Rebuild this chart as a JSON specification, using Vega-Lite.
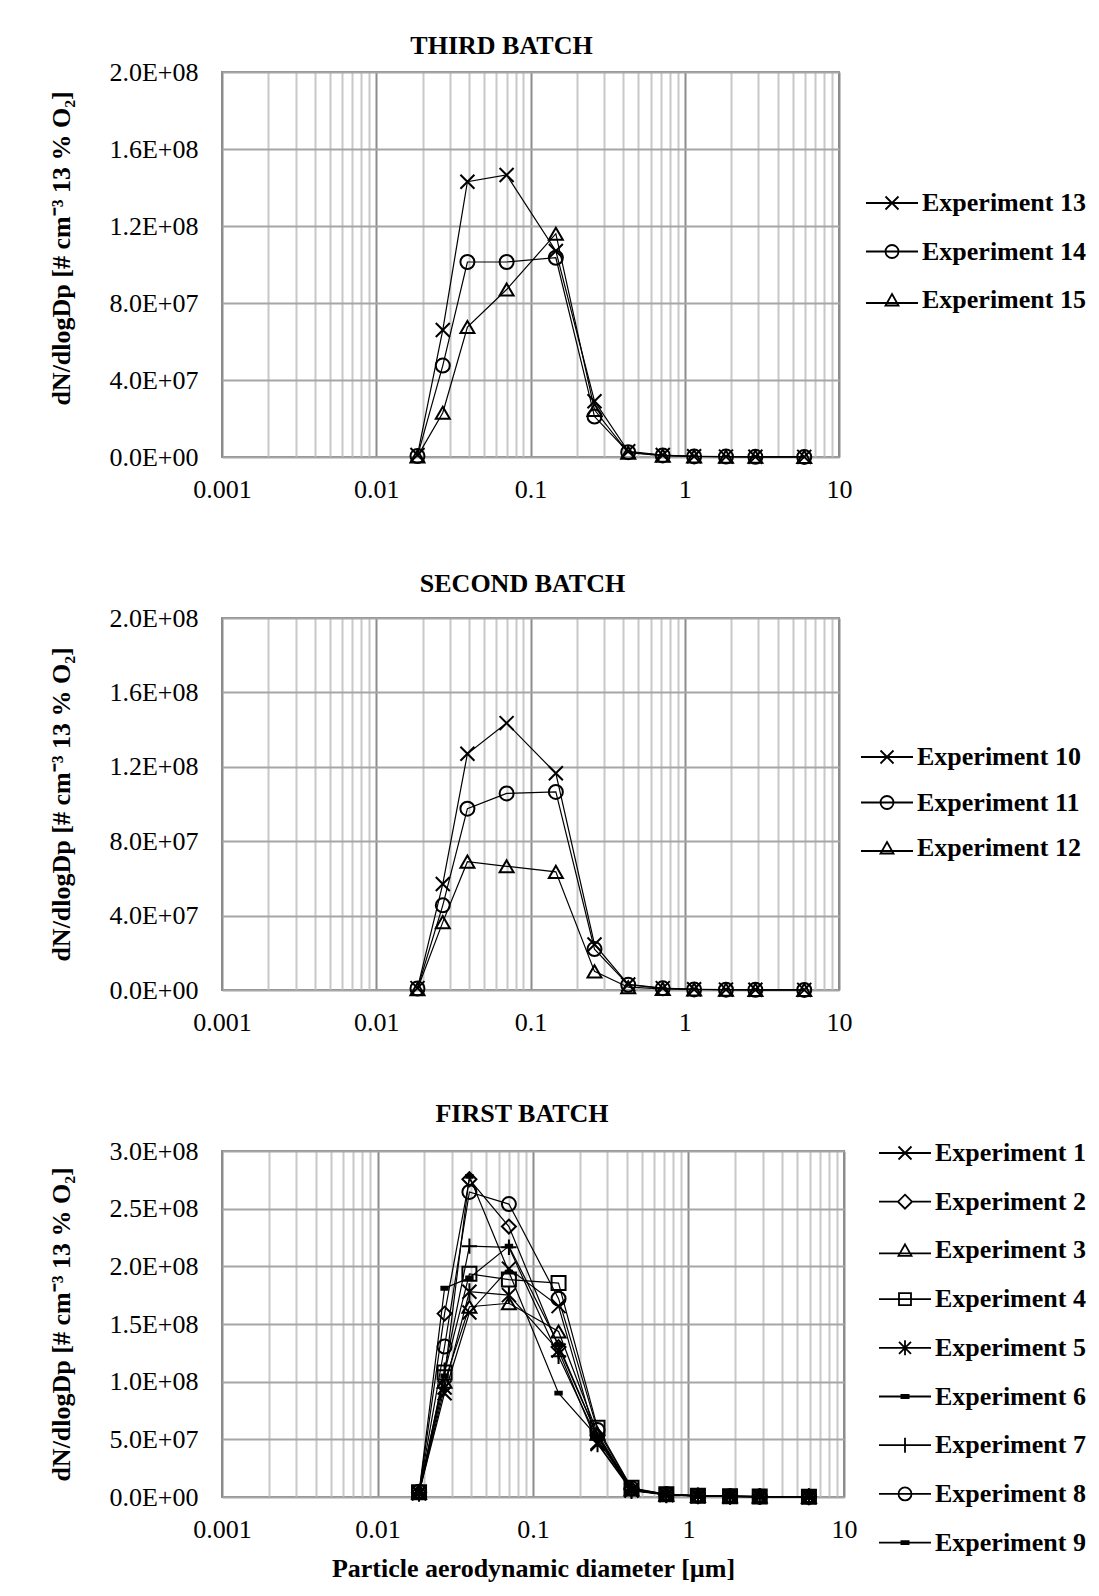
{
  "$schema": "https://vega.github.io/schema/vega-lite/v6.json",
  "background": "white",
  "padding": {"left": 47, "top": 32, "right": 0, "bottom": 0},
  "spacing": 161,
  "bounds": "flush",
  "datasets": {
    "psd": [
      {"p":1,"e":"Experiment 13","d":0.0185,"n":1000000},{"p":1,"e":"Experiment 13","d":0.027,"n":66000000},{"p":1,"e":"Experiment 13","d":0.039,"n":143000000},{"p":1,"e":"Experiment 13","d":0.07,"n":146500000},{"p":1,"e":"Experiment 13","d":0.146,"n":107000000},{"p":1,"e":"Experiment 13","d":0.26,"n":29000000},{"p":1,"e":"Experiment 13","d":0.43,"n":3000000},{"p":1,"e":"Experiment 13","d":0.72,"n":1000000},{"p":1,"e":"Experiment 13","d":1.15,"n":400000},{"p":1,"e":"Experiment 13","d":1.85,"n":200000},{"p":1,"e":"Experiment 13","d":2.87,"n":100000},{"p":1,"e":"Experiment 13","d":5.95,"n":50000},
      {"p":1,"e":"Experiment 14","d":0.0185,"n":500000},{"p":1,"e":"Experiment 14","d":0.027,"n":47500000},{"p":1,"e":"Experiment 14","d":0.039,"n":101300000},{"p":1,"e":"Experiment 14","d":0.07,"n":101300000},{"p":1,"e":"Experiment 14","d":0.146,"n":103500000},{"p":1,"e":"Experiment 14","d":0.26,"n":21000000},{"p":1,"e":"Experiment 14","d":0.43,"n":2500000},{"p":1,"e":"Experiment 14","d":0.72,"n":800000},{"p":1,"e":"Experiment 14","d":1.15,"n":300000},{"p":1,"e":"Experiment 14","d":1.85,"n":200000},{"p":1,"e":"Experiment 14","d":2.87,"n":100000},{"p":1,"e":"Experiment 14","d":5.95,"n":50000},
      {"p":1,"e":"Experiment 15","d":0.0185,"n":300000},{"p":1,"e":"Experiment 15","d":0.027,"n":23000000},{"p":1,"e":"Experiment 15","d":0.039,"n":67500000},{"p":1,"e":"Experiment 15","d":0.07,"n":87000000},{"p":1,"e":"Experiment 15","d":0.146,"n":116000000},{"p":1,"e":"Experiment 15","d":0.26,"n":24500000},{"p":1,"e":"Experiment 15","d":0.43,"n":2200000},{"p":1,"e":"Experiment 15","d":0.72,"n":700000},{"p":1,"e":"Experiment 15","d":1.15,"n":300000},{"p":1,"e":"Experiment 15","d":1.85,"n":200000},{"p":1,"e":"Experiment 15","d":2.87,"n":100000},{"p":1,"e":"Experiment 15","d":5.95,"n":50000},
      {"p":2,"e":"Experiment 10","d":0.0185,"n":1000000},{"p":2,"e":"Experiment 10","d":0.027,"n":57000000},{"p":2,"e":"Experiment 10","d":0.039,"n":127000000},{"p":2,"e":"Experiment 10","d":0.07,"n":143500000},{"p":2,"e":"Experiment 10","d":0.146,"n":116500000},{"p":2,"e":"Experiment 10","d":0.26,"n":24500000},{"p":2,"e":"Experiment 10","d":0.43,"n":3000000},{"p":2,"e":"Experiment 10","d":0.72,"n":1000000},{"p":2,"e":"Experiment 10","d":1.15,"n":400000},{"p":2,"e":"Experiment 10","d":1.85,"n":200000},{"p":2,"e":"Experiment 10","d":2.87,"n":100000},{"p":2,"e":"Experiment 10","d":5.95,"n":50000},
      {"p":2,"e":"Experiment 11","d":0.0185,"n":800000},{"p":2,"e":"Experiment 11","d":0.027,"n":45500000},{"p":2,"e":"Experiment 11","d":0.039,"n":97500000},{"p":2,"e":"Experiment 11","d":0.07,"n":105700000},{"p":2,"e":"Experiment 11","d":0.146,"n":106500000},{"p":2,"e":"Experiment 11","d":0.26,"n":22000000},{"p":2,"e":"Experiment 11","d":0.43,"n":2800000},{"p":2,"e":"Experiment 11","d":0.72,"n":900000},{"p":2,"e":"Experiment 11","d":1.15,"n":300000},{"p":2,"e":"Experiment 11","d":1.85,"n":200000},{"p":2,"e":"Experiment 11","d":2.87,"n":100000},{"p":2,"e":"Experiment 11","d":5.95,"n":50000},
      {"p":2,"e":"Experiment 12","d":0.0185,"n":500000},{"p":2,"e":"Experiment 12","d":0.027,"n":36500000},{"p":2,"e":"Experiment 12","d":0.039,"n":69000000},{"p":2,"e":"Experiment 12","d":0.07,"n":66500000},{"p":2,"e":"Experiment 12","d":0.146,"n":63500000},{"p":2,"e":"Experiment 12","d":0.26,"n":10000000},{"p":2,"e":"Experiment 12","d":0.43,"n":1500000},{"p":2,"e":"Experiment 12","d":0.72,"n":600000},{"p":2,"e":"Experiment 12","d":1.15,"n":300000},{"p":2,"e":"Experiment 12","d":1.85,"n":200000},{"p":2,"e":"Experiment 12","d":2.87,"n":100000},{"p":2,"e":"Experiment 12","d":5.95,"n":50000},
      {"p":3,"e":"Experiment 1","d":0.0185,"n":3500000},{"p":3,"e":"Experiment 1","d":0.027,"n":90000000},{"p":3,"e":"Experiment 1","d":0.039,"n":160000000},{"p":3,"e":"Experiment 1","d":0.07,"n":198000000},{"p":3,"e":"Experiment 1","d":0.146,"n":165500000},{"p":3,"e":"Experiment 1","d":0.26,"n":47000000},{"p":3,"e":"Experiment 1","d":0.43,"n":6000000},{"p":3,"e":"Experiment 1","d":0.72,"n":2000000},{"p":3,"e":"Experiment 1","d":1.15,"n":1000000},{"p":3,"e":"Experiment 1","d":1.85,"n":600000},{"p":3,"e":"Experiment 1","d":2.87,"n":400000},{"p":3,"e":"Experiment 1","d":5.95,"n":200000},
      {"p":3,"e":"Experiment 2","d":0.0185,"n":4000000},{"p":3,"e":"Experiment 2","d":0.027,"n":159000000},{"p":3,"e":"Experiment 2","d":0.039,"n":275500000},{"p":3,"e":"Experiment 2","d":0.07,"n":234500000},{"p":3,"e":"Experiment 2","d":0.146,"n":130000000},{"p":3,"e":"Experiment 2","d":0.26,"n":53000000},{"p":3,"e":"Experiment 2","d":0.43,"n":7000000},{"p":3,"e":"Experiment 2","d":0.72,"n":2200000},{"p":3,"e":"Experiment 2","d":1.15,"n":1000000},{"p":3,"e":"Experiment 2","d":1.85,"n":600000},{"p":3,"e":"Experiment 2","d":2.87,"n":400000},{"p":3,"e":"Experiment 2","d":5.95,"n":200000},
      {"p":3,"e":"Experiment 3","d":0.0185,"n":3800000},{"p":3,"e":"Experiment 3","d":0.027,"n":100000000},{"p":3,"e":"Experiment 3","d":0.039,"n":165000000},{"p":3,"e":"Experiment 3","d":0.07,"n":168000000},{"p":3,"e":"Experiment 3","d":0.146,"n":143500000},{"p":3,"e":"Experiment 3","d":0.26,"n":55000000},{"p":3,"e":"Experiment 3","d":0.43,"n":6500000},{"p":3,"e":"Experiment 3","d":0.72,"n":2000000},{"p":3,"e":"Experiment 3","d":1.15,"n":1000000},{"p":3,"e":"Experiment 3","d":1.85,"n":600000},{"p":3,"e":"Experiment 3","d":2.87,"n":400000},{"p":3,"e":"Experiment 3","d":5.95,"n":200000},
      {"p":3,"e":"Experiment 4","d":0.0185,"n":4200000},{"p":3,"e":"Experiment 4","d":0.027,"n":108000000},{"p":3,"e":"Experiment 4","d":0.039,"n":193500000},{"p":3,"e":"Experiment 4","d":0.07,"n":188500000},{"p":3,"e":"Experiment 4","d":0.146,"n":185500000},{"p":3,"e":"Experiment 4","d":0.26,"n":60000000},{"p":3,"e":"Experiment 4","d":0.43,"n":8000000},{"p":3,"e":"Experiment 4","d":0.72,"n":2400000},{"p":3,"e":"Experiment 4","d":1.15,"n":1100000},{"p":3,"e":"Experiment 4","d":1.85,"n":600000},{"p":3,"e":"Experiment 4","d":2.87,"n":400000},{"p":3,"e":"Experiment 4","d":5.95,"n":200000},
      {"p":3,"e":"Experiment 5","d":0.0185,"n":3200000},{"p":3,"e":"Experiment 5","d":0.027,"n":95000000},{"p":3,"e":"Experiment 5","d":0.039,"n":178000000},{"p":3,"e":"Experiment 5","d":0.07,"n":175000000},{"p":3,"e":"Experiment 5","d":0.146,"n":127000000},{"p":3,"e":"Experiment 5","d":0.26,"n":46000000},{"p":3,"e":"Experiment 5","d":0.43,"n":5500000},{"p":3,"e":"Experiment 5","d":0.72,"n":1800000},{"p":3,"e":"Experiment 5","d":1.15,"n":900000},{"p":3,"e":"Experiment 5","d":1.85,"n":500000},{"p":3,"e":"Experiment 5","d":2.87,"n":300000},{"p":3,"e":"Experiment 5","d":5.95,"n":200000},
      {"p":3,"e":"Experiment 6","d":0.0185,"n":3600000},{"p":3,"e":"Experiment 6","d":0.027,"n":105000000},{"p":3,"e":"Experiment 6","d":0.039,"n":278000000},{"p":3,"e":"Experiment 6","d":0.07,"n":195000000},{"p":3,"e":"Experiment 6","d":0.146,"n":90000000},{"p":3,"e":"Experiment 6","d":0.26,"n":52000000},{"p":3,"e":"Experiment 6","d":0.43,"n":6000000},{"p":3,"e":"Experiment 6","d":0.72,"n":2000000},{"p":3,"e":"Experiment 6","d":1.15,"n":1000000},{"p":3,"e":"Experiment 6","d":1.85,"n":600000},{"p":3,"e":"Experiment 6","d":2.87,"n":400000},{"p":3,"e":"Experiment 6","d":5.95,"n":200000},
      {"p":3,"e":"Experiment 7","d":0.0185,"n":3400000},{"p":3,"e":"Experiment 7","d":0.027,"n":110000000},{"p":3,"e":"Experiment 7","d":0.039,"n":217500000},{"p":3,"e":"Experiment 7","d":0.07,"n":216500000},{"p":3,"e":"Experiment 7","d":0.146,"n":122000000},{"p":3,"e":"Experiment 7","d":0.26,"n":50000000},{"p":3,"e":"Experiment 7","d":0.43,"n":6200000},{"p":3,"e":"Experiment 7","d":0.72,"n":2000000},{"p":3,"e":"Experiment 7","d":1.15,"n":1000000},{"p":3,"e":"Experiment 7","d":1.85,"n":600000},{"p":3,"e":"Experiment 7","d":2.87,"n":400000},{"p":3,"e":"Experiment 7","d":5.95,"n":200000},
      {"p":3,"e":"Experiment 8","d":0.0185,"n":4500000},{"p":3,"e":"Experiment 8","d":0.027,"n":130500000},{"p":3,"e":"Experiment 8","d":0.039,"n":264500000},{"p":3,"e":"Experiment 8","d":0.07,"n":254000000},{"p":3,"e":"Experiment 8","d":0.146,"n":172000000},{"p":3,"e":"Experiment 8","d":0.26,"n":58000000},{"p":3,"e":"Experiment 8","d":0.43,"n":7500000},{"p":3,"e":"Experiment 8","d":0.72,"n":2300000},{"p":3,"e":"Experiment 8","d":1.15,"n":1100000},{"p":3,"e":"Experiment 8","d":1.85,"n":600000},{"p":3,"e":"Experiment 8","d":2.87,"n":400000},{"p":3,"e":"Experiment 8","d":5.95,"n":200000},
      {"p":3,"e":"Experiment 9","d":0.0185,"n":4000000},{"p":3,"e":"Experiment 9","d":0.027,"n":181000000},{"p":3,"e":"Experiment 9","d":0.039,"n":190000000},{"p":3,"e":"Experiment 9","d":0.07,"n":217500000},{"p":3,"e":"Experiment 9","d":0.146,"n":132000000},{"p":3,"e":"Experiment 9","d":0.26,"n":53000000},{"p":3,"e":"Experiment 9","d":0.43,"n":6800000},{"p":3,"e":"Experiment 9","d":0.72,"n":2100000},{"p":3,"e":"Experiment 9","d":1.15,"n":1000000},{"p":3,"e":"Experiment 9","d":1.85,"n":600000},{"p":3,"e":"Experiment 9","d":2.87,"n":400000},{"p":3,"e":"Experiment 9","d":5.95,"n":200000}
    ]
  },
  "vconcat": [
    {
      "width": 617, "height": 385,
      "title": {"text": "THIRD BATCH", "dx": -29, "offset": 0},
      "data": {"name": "psd"},
      "transform": [{"filter": "datum.p == 1"}],
      "encoding": {
        "x": {"field": "d", "type": "quantitative", "scale": {"type": "log", "domain": [0.001, 10], "nice": false},
          "axis": {"title": null, "values": [0.001,0.002,0.003,0.004,0.005,0.006,0.007,0.008,0.009,0.01,0.02,0.03,0.04,0.05,0.06,0.07,0.08,0.09,0.1,0.2,0.3,0.4,0.5,0.6,0.7,0.8,0.9,1,2,3,4,5,6,7,8,9,10],
            "format": "~g", "labelExpr": "abs(log(datum.value)/LN10 - round(log(datum.value)/LN10)) < 0.000001 ? datum.label : ''",
            "gridColor": {"condition": {"test": "abs(log(datum.value)/LN10 - round(log(datum.value)/LN10)) < 0.000001", "value": "#8c8c8c"}, "value": "#c8c8c8"},
            "labelPadding": 19}},
        "y": {"field": "n", "type": "quantitative", "scale": {"domain": [0, 200000000], "nice": false},
          "axis": {"values": [0, 40000000, 80000000, 120000000, 160000000, 200000000], "labelExpr": "replace(upper(format(datum.value, '.1e')), 'E+', 'E+0')", "title": "dN/dlogDp [# cm⁻³ 13 % O₂]", "titleY": 176}}
      },
      "layer": [
        {"mark": {"type": "line", "color": "black", "strokeWidth": 1.2}, "encoding": {"detail": {"field": "e"}}},
        {"mark": {"type": "point", "filled": false, "color": "black", "strokeWidth": 2, "size": 196, "opacity": 1},
          "encoding": {"shape": {"field": "e", "legend": null, "scale": {"domain": ["Experiment 13", "Experiment 14", "Experiment 15"], "range": ["M-1,-1L1,1M-1,1L1,-1", "circle", "triangle-up"]}}}},
        {"mark": {"type": "point", "filled": false, "color": "black", "opacity": 0},
          "encoding": {"shape": {"field": "e", "scale": {"domain": ["Experiment 13", "Experiment 14", "Experiment 15"], "range": [
            "M-2.6,0L2.6,0M-0.65,-0.65L0.65,0.65M-0.65,0.65L0.65,-0.65",
            "M-2.6,0L2.6,0M0.65,0A0.65,0.65,0,1,1,-0.65,0A0.65,0.65,0,1,1,0.65,0",
            "M-2.6,0.3L2.6,0.3M0,-0.6L0.65,0.55L-0.65,0.55Z"]},
            "legend": {"orient": "none", "legendX": 657, "legendY": 118, "rowPadding": 22.5}}}}
      ],
      "resolve": {"scale": {"shape": "independent"}, "legend": {"shape": "independent"}}
    },
    {
      "width": 617, "height": 372,
      "title": {"text": "SECOND BATCH", "dx": -8, "offset": 8},
      "data": {"name": "psd"},
      "transform": [{"filter": "datum.p == 2"}],
      "encoding": {
        "x": {"field": "d", "type": "quantitative", "scale": {"type": "log", "domain": [0.001, 10], "nice": false},
          "axis": {"title": null, "values": [0.001,0.002,0.003,0.004,0.005,0.006,0.007,0.008,0.009,0.01,0.02,0.03,0.04,0.05,0.06,0.07,0.08,0.09,0.1,0.2,0.3,0.4,0.5,0.6,0.7,0.8,0.9,1,2,3,4,5,6,7,8,9,10],
            "format": "~g", "labelExpr": "abs(log(datum.value)/LN10 - round(log(datum.value)/LN10)) < 0.000001 ? datum.label : ''",
            "gridColor": {"condition": {"test": "abs(log(datum.value)/LN10 - round(log(datum.value)/LN10)) < 0.000001", "value": "#8c8c8c"}, "value": "#c8c8c8"},
            "labelPadding": 19}},
        "y": {"field": "n", "type": "quantitative", "scale": {"domain": [0, 200000000], "nice": false},
          "axis": {"values": [0, 40000000, 80000000, 120000000, 160000000, 200000000], "labelExpr": "replace(upper(format(datum.value, '.1e')), 'E+', 'E+0')", "title": "dN/dlogDp [# cm⁻³ 13 % O₂]"}}
      },
      "layer": [
        {"mark": {"type": "line", "color": "black", "strokeWidth": 1.2}, "encoding": {"detail": {"field": "e"}}},
        {"mark": {"type": "point", "filled": false, "color": "black", "strokeWidth": 2, "size": 196, "opacity": 1},
          "encoding": {"shape": {"field": "e", "legend": null, "scale": {"domain": ["Experiment 10", "Experiment 11", "Experiment 12"], "range": ["M-1,-1L1,1M-1,1L1,-1", "circle", "triangle-up"]}}}},
        {"mark": {"type": "point", "filled": false, "color": "black", "opacity": 0},
          "encoding": {"shape": {"field": "e", "scale": {"domain": ["Experiment 10", "Experiment 11", "Experiment 12"], "range": [
            "M-2.6,0L2.6,0M-0.65,-0.65L0.65,0.65M-0.65,0.65L0.65,-0.65",
            "M-2.6,0L2.6,0M0.65,0A0.65,0.65,0,1,1,-0.65,0A0.65,0.65,0,1,1,0.65,0",
            "M-2.6,0.3L2.6,0.3M0,-0.6L0.65,0.55L-0.65,0.55Z"]},
            "legend": {"orient": "none", "legendX": 652, "legendY": 126, "rowPadding": 19.5}}}}
      ],
      "resolve": {"scale": {"shape": "independent"}, "legend": {"shape": "independent"}}
    },
    {
      "width": 622, "height": 346,
      "title": {"text": "FIRST BATCH", "dx": -11, "offset": 11},
      "data": {"name": "psd"},
      "transform": [{"filter": "datum.p == 3"}],
      "encoding": {
        "x": {"field": "d", "type": "quantitative", "scale": {"type": "log", "domain": [0.001, 10], "nice": false},
          "axis": {"title": "Particle aerodynamic diameter [µm]", "titlePadding": 13, "values": [0.001,0.002,0.003,0.004,0.005,0.006,0.007,0.008,0.009,0.01,0.02,0.03,0.04,0.05,0.06,0.07,0.08,0.09,0.1,0.2,0.3,0.4,0.5,0.6,0.7,0.8,0.9,1,2,3,4,5,6,7,8,9,10],
            "format": "~g", "labelExpr": "abs(log(datum.value)/LN10 - round(log(datum.value)/LN10)) < 0.000001 ? datum.label : ''",
            "gridColor": {"condition": {"test": "abs(log(datum.value)/LN10 - round(log(datum.value)/LN10)) < 0.000001", "value": "#8c8c8c"}, "value": "#c8c8c8"},
            "labelPadding": 19}},
        "y": {"field": "n", "type": "quantitative", "scale": {"domain": [0, 300000000], "nice": false},
          "axis": {"values": [0, 50000000, 100000000, 150000000, 200000000, 250000000, 300000000], "labelExpr": "replace(upper(format(datum.value, '.1e')), 'E+', 'E+0')", "title": "dN/dlogDp [# cm⁻³ 13 % O₂]"}}
      },
      "layer": [
        {"mark": {"type": "line", "color": "black", "strokeWidth": 1.2}, "encoding": {"detail": {"field": "e"}}},
        {"mark": {"type": "point", "filled": false, "color": "black", "strokeWidth": 2, "size": 196, "opacity": 1},
          "encoding": {"shape": {"field": "e", "legend": null, "scale": {
            "domain": ["Experiment 1", "Experiment 2", "Experiment 3", "Experiment 4", "Experiment 5", "Experiment 6", "Experiment 7", "Experiment 8", "Experiment 9"],
            "range": ["M-1,-1L1,1M-1,1L1,-1", "diamond", "triangle-up", "square", "M-1,-1L1,1M-1,1L1,-1M0,-1.2L0,1.2", "M-0.6,-0.2L0.6,-0.2M-0.6,0L0.6,0M-0.6,0.2L0.6,0.2", "M-1.1,0L1.1,0M0,-1.1L0,1.1", "circle", "M-0.6,-0.2L0.6,-0.2M-0.6,0L0.6,0M-0.6,0.2L0.6,0.2"]}}}},
        {"mark": {"type": "point", "filled": false, "color": "black", "opacity": 0},
          "encoding": {"shape": {"field": "e", "scale": {
            "domain": ["Experiment 1", "Experiment 2", "Experiment 3", "Experiment 4", "Experiment 5", "Experiment 6", "Experiment 7", "Experiment 8", "Experiment 9"],
            "range": [
            "M-2.6,0L2.6,0M-0.65,-0.65L0.65,0.65M-0.65,0.65L0.65,-0.65",
            "M-2.6,0L-0.7,0M0.7,0L2.6,0M0,-0.7L0.7,0L0,0.7L-0.7,0Z",
            "M-2.6,0.3L2.6,0.3M0,-0.6L0.65,0.55L-0.65,0.55Z",
            "M-2.6,0L2.6,0M-0.6,-0.6L0.6,-0.6L0.6,0.6L-0.6,0.6Z",
            "M-2.6,0L2.6,0M-0.6,-0.6L0.6,0.6M-0.6,0.6L0.6,-0.6M0,-0.75L0,0.75",
            "M-2.6,0L2.6,0M-0.45,-0.15L0.45,-0.15M-0.45,0.15L0.45,0.15",
            "M-2.6,0L2.6,0M0,-0.75L0,0.75",
            "M-2.6,0L2.6,0M0.65,0A0.65,0.65,0,1,1,-0.65,0A0.65,0.65,0,1,1,0.65,0",
            "M-2.6,0L2.6,0M-0.45,-0.15L0.45,-0.15M-0.45,0.15L0.45,0.15"]},
            "legend": {"orient": "none", "legendX": 670, "legendY": -11, "rowPadding": 22.7}}}}
      ],
      "resolve": {"scale": {"shape": "independent"}, "legend": {"shape": "independent"}}
    }
  ],
  "resolve": {"scale": {"x": "independent", "y": "independent", "shape": "independent"}, "legend": {"shape": "independent"}},
  "config": {
    "font": "Liberation Serif",
    "view": {"stroke": "#8c8c8c", "strokeWidth": 2},
    "axis": {"labelFont": "Liberation Serif", "labelFontSize": 26, "labelColor": "black", "titleFont": "Liberation Serif", "titleFontSize": 26, "titleFontWeight": "bold", "titleColor": "black", "ticks": false, "domain": false, "gridColor": "#a6a6a6", "gridWidth": 2, "gridOpacity": 1, "labelOverlap": false, "labelFlush": false, "labelBound": false, "titleLimit": 1000},
    "axisY": {"labelPadding": 24, "titlePadding": 34},
    "title": {"font": "Liberation Serif", "fontSize": 26, "fontWeight": "bold", "color": "black", "anchor": "middle"},
    "legend": {"title": null, "labelFont": "Liberation Serif", "labelFontSize": 26, "labelFontWeight": "bold", "labelColor": "black", "labelLimit": 400, "labelOffset": 17, "symbolSize": 400, "symbolStrokeWidth": 1.8, "symbolStrokeColor": "black", "symbolFillColor": "transparent", "symbolOpacity": 1, "padding": 0}
  }
}
